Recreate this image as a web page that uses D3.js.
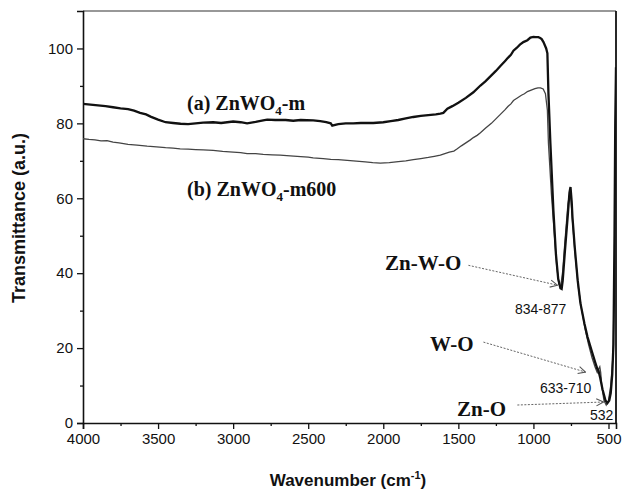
<!DOCTYPE html>
<html>
<head>
<meta charset="utf-8">
<script src="https://cdn.jsdelivr.net/npm/d3@7"></script>
<style>
  body { margin: 0; background: #fff; }
  svg { display: block; }
</style>
</head>
<body>
<svg id="chart" width="622" height="492"></svg>
<script>
// ---------- DATA ----------
const wavenumberA = [4000,3950,3900,3850,3800,3750,3700,3660,3620,3580,3550,3500,3450,3400,3350,3300,3250,3200,3133,3080,3000,2950,2907,2850,2800,2773,2720,2650,2600,2550,2467,2420,2380,2350,2340,2320,2300,2250,2200,2150,2067,2000,1950,1900,1850,1800,1750,1700,1650,1620,1600,1573,1540,1500,1450,1400,1353,1320,1280,1250,1220,1190,1170,1150,1133,1110,1090,1067,1040,1020,1000,985,967,955,945,933,915,907,900,887,867,850,835,820,812,805,790,770,760,753,745,740,725,705,687,660,640,610,587,575,567,555,540,520,507,495,485,475,467,460,455,450];
const transA = [85.2,85.0,84.8,84.6,84.3,84.0,83.8,83.4,82.8,82.4,81.8,81.0,80.3,80.1,79.9,79.8,80.0,80.2,80.3,80.1,80.5,80.3,80.0,80.4,80.8,81.0,80.9,80.9,80.7,80.9,80.8,80.6,80.3,80.0,79.4,79.6,79.8,80.0,80.0,80.1,80.1,80.3,80.6,80.9,81.3,81.7,82.0,82.2,82.4,82.6,82.8,83.9,84.6,85.5,86.8,88.3,90.1,91.2,92.8,94.0,95.3,96.6,97.5,98.3,99.4,100.2,101.0,101.7,102.2,102.9,103.1,103.0,103.0,102.8,102.5,101.7,100.0,98.7,88.0,74.7,56.8,45.0,38.5,36.0,35.8,38.0,46.0,56.0,61.5,63.0,59.0,55.0,47.0,38.0,32.0,26.5,23.0,19.0,16.0,14.5,14.0,12.0,9.0,6.0,5.3,6.0,8.0,13.0,21.0,50.0,80.0,95.0];

const wavenumberB = [4000,3960,3920,3880,3840,3800,3760,3700,3640,3573,3510,3450,3400,3353,3300,3250,3200,3133,3070,3000,2950,2907,2850,2800,2740,2687,2620,2550,2500,2467,2400,2350,2300,2240,2180,2120,2070,2020,1960,1900,1850,1800,1750,1700,1660,1620,1590,1560,1530,1507,1480,1450,1420,1400,1375,1353,1320,1280,1250,1220,1190,1170,1150,1133,1110,1080,1060,1040,1015,990,970,953,935,920,907,900,880,860,845,830,818,805,790,770,755,745,740,720,700,680,655,633,610,590,575,565,558,552,545,530,515,500,485,470,460,455,450];
const transB = [75.9,75.7,75.6,75.3,75.4,75.0,74.8,74.4,74.2,73.9,73.7,73.5,73.4,73.2,73.1,73.0,72.9,72.8,72.5,72.3,72.2,71.9,71.9,71.7,71.6,71.5,71.3,71.1,71.0,70.8,70.6,70.4,70.3,70.1,69.9,69.7,69.5,69.4,69.5,69.8,70.0,70.3,70.6,70.9,71.2,71.5,71.9,72.3,72.6,73.2,74.0,74.8,75.6,76.2,76.8,77.5,78.7,80.0,81.2,82.4,83.6,84.5,85.2,86.1,86.7,87.5,87.9,88.5,88.9,89.3,89.5,89.5,89.2,87.9,83.5,74.7,61.0,50.0,42.0,37.0,36.5,40.5,48.5,58.5,62.0,57.0,54.0,44.0,36.0,30.5,25.0,21.0,17.5,15.0,13.5,14.5,15.0,13.5,10.0,6.0,4.8,6.0,10.0,18.0,40.0,65.0,80.0];

const xTicks = [4000,3500,3000,2500,2000,1500,1000,500];
const xMinorTicks = [3750,3250,2750,2250,1750,1250,750];
const yTicks = [0,20,40,60,80,100];
const yMinorTicks = [10,30,50,70,90];

// ---------- LAYOUT ----------
const svg = d3.select("#chart");
const L = 83, R = 616, T = 11, B = 423;
const x = d3.scaleLinear().domain([4000, 450]).range([L, R]);
const y = d3.scaleLinear().domain([0, 110]).range([B, T]);

const sans = "'Liberation Sans', Arial, sans-serif";
const serif = "'Liberation Serif', 'Times New Roman', serif";

// frame (top + right)
svg.append("line").attr("x1", L).attr("x2", R).attr("y1", T).attr("y2", T)
  .attr("stroke", "#333").attr("stroke-width", 1.2);
svg.append("line").attr("x1", R).attr("x2", R).attr("y1", T).attr("y2", B)
  .attr("stroke", "#111").attr("stroke-width", 1.8);

// x axis
svg.append("g").attr("transform", `translate(0,${B})`)
  .call(d3.axisBottom(x).tickValues(xTicks).tickSize(6).tickPadding(4).tickFormat(d3.format("d")));
svg.append("g").attr("transform", `translate(0,${B})`)
  .call(d3.axisBottom(x).tickValues(xMinorTicks).tickSize(3).tickFormat(""))
  .select(".domain").remove();

// y axis
svg.append("g").attr("transform", `translate(${L},0)`)
  .call(d3.axisLeft(y).tickValues(yTicks).tickSize(6).tickPadding(4));
svg.append("g").attr("transform", `translate(${L},0)`)
  .call(d3.axisLeft(y).tickValues(yMinorTicks).tickSize(3).tickFormat(""))
  .select(".domain").remove();

svg.selectAll(".domain").attr("stroke", "#111").attr("stroke-width", 1.6);
svg.selectAll(".tick line").attr("stroke", "#111").attr("stroke-width", 1.3);
svg.selectAll(".tick text").attr("font-family", sans).attr("font-size", 15).attr("fill", "#111");

// axis titles
svg.append("text").attr("x", 348).attr("y", 486).attr("text-anchor", "middle")
  .attr("font-family", sans).attr("font-weight", "bold").attr("font-size", 17).attr("fill", "#111")
  .call(t => {
    t.append("tspan").text("Wavenumber (cm");
    t.append("tspan").attr("font-size", 11).attr("dy", -7).text("-1");
    t.append("tspan").attr("dy", 7).text(")");
  });
svg.append("text").attr("transform", "translate(25,218) rotate(-90)").attr("text-anchor", "middle")
  .attr("font-family", sans).attr("font-weight", "bold").attr("font-size", 18).attr("fill", "#111")
  .text("Transmittance (a.u.)");

// curves
const line = d3.line().x(d => x(d[0])).y(d => y(d[1]));
const dataA = wavenumberA.map((w, i) => [w, transA[i]]);
const dataB = wavenumberB.map((w, i) => [w, transB[i]]);
svg.append("clipPath").attr("id", "clip").append("rect")
  .attr("x", L).attr("y", T).attr("width", R - L).attr("height", B - T);
svg.append("path").datum(dataB).attr("d", line).attr("fill", "none")
  .attr("stroke", "#444").attr("stroke-width", 1.3).attr("clip-path", "url(#clip)");
svg.append("path").datum(dataA).attr("d", line).attr("fill", "none")
  .attr("stroke", "#111").attr("stroke-width", 2.3).attr("clip-path", "url(#clip)");

// arrow marker
svg.append("defs").append("marker").attr("id", "arr")
  .attr("viewBox", "0 0 10 10").attr("refX", 9).attr("refY", 5)
  .attr("markerWidth", 9).attr("markerHeight", 9).attr("orient", "auto")
  .attr("markerUnits", "userSpaceOnUse")
  .append("path").attr("d", "M1,1 L9,5 L1,9").attr("fill", "none")
  .attr("stroke", "#555").attr("stroke-width", 1.2);

function arrow(w1, t1, w2, t2) {
  svg.append("line").attr("x1", x(w1)).attr("y1", y(t1)).attr("x2", x(w2)).attr("y2", y(t2))
    .attr("stroke", "#666").attr("stroke-width", 1).attr("stroke-dasharray", "2,1.5")
    .attr("marker-end", "url(#arr)");
}
arrow(1433, 42.1, 840, 36.8);
arrow(1333, 21.6, 653, 13.6);
arrow(1107, 4.8, 533, 5.6);

// sample labels
function sampleLabel(px, py, tail) {
  const t = svg.append("text").attr("x", px).attr("y", py)
    .attr("font-family", serif).attr("font-weight", "bold").attr("font-size", 20).attr("fill", "#111");
  t.append("tspan").text("(" + tail[0] + ") ZnWO");
  t.append("tspan").attr("font-size", 13).attr("dy", 5).text("4");
  t.append("tspan").attr("dy", -5).text(tail[1]);
}
sampleLabel(187, 110, ["a", "-m"]);
sampleLabel(187, 196, ["b", "-m600"]);

// band labels
function bold(px, py, s) {
  svg.append("text").attr("x", px).attr("y", py).attr("font-family", serif)
    .attr("font-weight", "bold").attr("font-size", 21).attr("fill", "#111").text(s);
}
function small(px, py, s) {
  svg.append("text").attr("x", px).attr("y", py).attr("font-family", sans)
    .attr("font-size", 14).attr("fill", "#111").text(s);
}
bold(385, 270, "Zn-W-O");
bold(430, 351, "W-O");
bold(457, 416, "Zn-O");
small(515, 314, "834-877");
small(540, 393, "633-710");
small(590, 420, "532");
</script>
</body>
</html>
